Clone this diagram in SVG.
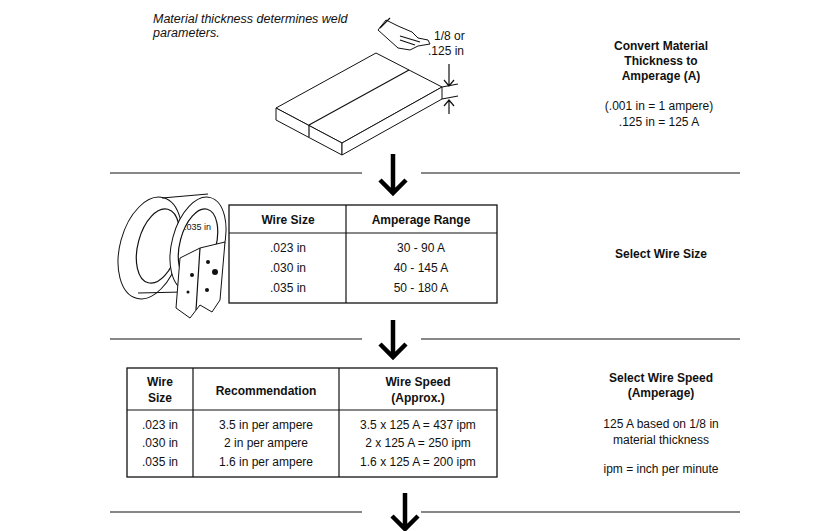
<svg xmlns="http://www.w3.org/2000/svg" width="822" height="531" viewBox="0 0 822 531">
<style>
text{font-family:"Liberation Sans",Arial,sans-serif;fill:#111;font-size:12px}
.b{font-weight:bold}
.it{font-style:italic}
.m{text-anchor:middle}
.ln{stroke:#111;stroke-width:1.2;fill:none}
.tb{stroke:#111;stroke-width:1.3;fill:#fff}
.ar{stroke:#000;stroke-width:4.5;fill:none}
.d{stroke:#111;stroke-width:1;fill:#fff}
</style>
<rect width="822" height="531" fill="#fff"/>
<g id="connectors">
<line class="ln" x1="110" y1="173" x2="362" y2="173"/><line class="ln" x1="421" y1="173" x2="740" y2="173"/>
<path class="ar" d="M393 154V192M380 180L393 193L406 180"/>
<line class="ln" x1="110" y1="339" x2="362" y2="339"/><line class="ln" x1="421" y1="339" x2="740" y2="339"/>
<path class="ar" d="M393 320V356M380 344L393 357L406 344"/>
<line class="ln" x1="110" y1="512" x2="362" y2="512"/><line class="ln" x1="421" y1="512" x2="740" y2="512"/>
<path class="ar" d="M405 493V528M392 516L405 529L418 516"/>
</g>
<g id="step1">
<text class="it" x="153" y="23" style="font-size:12.5px">Material thickness determines weld</text>
<text class="it" x="153" y="37" style="font-size:12.5px">parameters.</text>
<path class="d" d="M378 30L386 20L398 26L412 32L418 38L428 40L430 44L418 46L410 50L398 48Z"/>
<path class="ln" d="M380 28L390 18M400 36L420 42M400 40L415 45"/>
<text x="434" y="40">1/8 or</text>
<text x="428" y="55">.125 in</text>
<path class="d" d="M276 108L376 53L442 87L342 143Z"/>
<path class="d" d="M276 108L342 143L342 155L276 120Z"/>
<path class="d" d="M342 143L442 87L442 99L342 155Z"/>
<path class="ln" d="M309 125L409 70M309 125L309 137"/>
<path class="ln" d="M449 64V86M449 100V114M444 80L449 86L454 80M444 106L449 100L454 106M442 87L458 84M442 99L458 96"/>
<text class="b m" x="661" y="50">Convert Material</text>
<text class="b m" x="661" y="65">Thickness to</text>
<text class="b m" x="661" y="80">Amperage (A)</text>
<text class="m" x="659" y="110">(.001 in = 1 ampere)</text>
<text class="m" x="659" y="126">.125 in = 125 A</text>
</g>
<g id="step2">
<ellipse class="d" cx="150" cy="248" rx="30" ry="52" transform="rotate(15 150 248)"/>
<ellipse class="ln" cx="158" cy="246" rx="20" ry="38" transform="rotate(15 158 246)"/>
<path class="ln" d="M162 198L208 194M138 293L183 292"/>
<ellipse class="d" cx="198" cy="244" rx="26" ry="48" transform="rotate(15 198 244)"/>
<ellipse class="ln" cx="198" cy="244" rx="18" ry="36" transform="rotate(15 198 244)"/>
<text x="184" y="230" style="font-size:9px">.035 in</text>
<path class="d" d="M180 258L200 248L225 242L220 300L212 312L200 305L190 318L176 308Z"/>
<path class="ln" d="M200 248L196 310"/>
<circle cx="208" cy="262" r="2" fill="#111"/><circle cx="215" cy="272" r="3" fill="#111"/><circle cx="192" cy="275" r="2" fill="#111"/><circle cx="207" cy="290" r="2" fill="#111"/><circle cx="188" cy="292" r="1.5" fill="#111"/>
<rect class="tb" x="229" y="205" width="268" height="98"/>
<line class="ln" x1="229" y1="233" x2="497" y2="233"/>
<line class="ln" x1="346" y1="205" x2="346" y2="303"/>
<text class="b m" x="288" y="224">Wire Size</text>
<text class="b m" x="421" y="224">Amperage Range</text>
<text class="m" x="288" y="252">.023 in</text><text class="m" x="421" y="252">30 - 90 A</text>
<text class="m" x="288" y="272">.030 in</text><text class="m" x="421" y="272">40 - 145 A</text>
<text class="m" x="288" y="292">.035 in</text><text class="m" x="421" y="292">50 - 180 A</text>
<text class="b m" x="661" y="258">Select Wire Size</text>
</g>
<g id="step3">
<rect class="tb" x="127" y="368" width="370" height="109"/>
<line class="ln" x1="127" y1="410" x2="497" y2="410"/>
<line class="ln" x1="193" y1="368" x2="193" y2="477"/>
<line class="ln" x1="339" y1="368" x2="339" y2="477"/>
<text class="b m" x="160" y="386">Wire</text><text class="b m" x="160" y="402">Size</text>
<text class="b m" x="266" y="395">Recommendation</text>
<text class="b m" x="418" y="386">Wire Speed</text><text class="b m" x="418" y="402">(Approx.)</text>
<text class="m" x="160" y="429">.023 in</text><text class="m" x="266" y="429">3.5 in per ampere</text><text class="m" x="418" y="429">3.5 x 125 A = 437 ipm</text>
<text class="m" x="160" y="447">.030 in</text><text class="m" x="266" y="447">2 in per ampere</text><text class="m" x="418" y="447">2 x 125 A = 250 ipm</text>
<text class="m" x="160" y="466">.035 in</text><text class="m" x="266" y="466">1.6 in per ampere</text><text class="m" x="418" y="466">1.6 x 125 A = 200 ipm</text>
<text class="b m" x="661" y="382">Select Wire Speed</text>
<text class="b m" x="661" y="397">(Amperage)</text>
<text class="m" x="661" y="428">125 A based on 1/8 in</text>
<text class="m" x="661" y="444">material thickness</text>
<text class="m" x="661" y="473">ipm = inch per minute</text>
</g>
</svg>
